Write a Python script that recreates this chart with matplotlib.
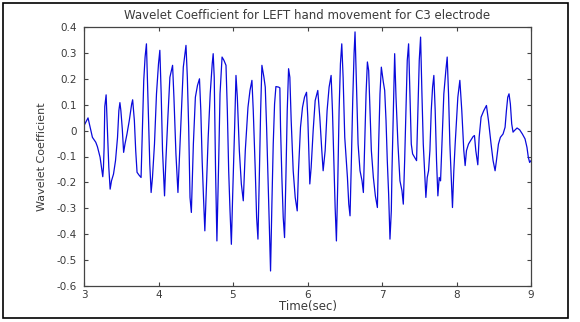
"""
Wavelet coefficient trace, LEFT hand movement, C3 electrode
out.png
"""

import matplotlib
matplotlib.use("Agg")
matplotlib.rcParams["font.family"] = ["DejaVu Sans"]
import matplotlib.pyplot as plt
from matplotlib.patches import Rectangle

OUTPUT_PNG = "out.png"

# time (sec) and coefficient
TIME = [
    3.000, 3.054, 3.113, 3.158, 3.180, 3.216, 3.234, 3.252, 3.261, 3.270,
    3.279, 3.297, 3.315, 3.333, 3.351, 3.369, 3.396, 3.423, 3.450, 3.468,
    3.482, 3.495, 3.514, 3.532, 3.550, 3.577, 3.608, 3.640, 3.653, 3.676,
    3.694, 3.712, 3.739, 3.766, 3.784, 3.802, 3.820, 3.838, 3.847, 3.865,
    3.883, 3.901, 3.919, 3.946, 3.973, 4.000, 4.018, 4.036, 4.054, 4.081,
    4.099, 4.126, 4.153, 4.189, 4.207, 4.234, 4.252, 4.261, 4.279, 4.306,
    4.333, 4.369, 4.387, 4.405, 4.423, 4.441, 4.468, 4.495, 4.523, 4.550,
    4.568, 4.586, 4.604, 4.622, 4.640, 4.667, 4.694, 4.721, 4.734, 4.748,
    4.766, 4.784, 4.808, 4.826, 4.853, 4.879, 4.906, 4.924, 4.942, 4.960,
    4.978, 4.996, 5.022, 5.040, 5.058, 5.085, 5.112, 5.138, 5.165, 5.201,
    5.228, 5.254, 5.272, 5.299, 5.317, 5.335, 5.353, 5.371, 5.388, 5.415,
    5.433, 5.451, 5.469, 5.487, 5.504, 5.522, 5.540, 5.558, 5.576, 5.612,
    5.629, 5.638, 5.656, 5.674, 5.692, 5.710, 5.728, 5.746, 5.763, 5.781,
    5.808, 5.835, 5.862, 5.879, 5.906, 5.933, 5.960, 5.987, 6.004, 6.031,
    6.049, 6.076, 6.103, 6.138, 6.165, 6.192, 6.210, 6.237, 6.263, 6.290,
    6.317, 6.335, 6.353, 6.371, 6.388, 6.406, 6.424, 6.442, 6.460, 6.478,
    6.500, 6.536, 6.554, 6.571, 6.589, 6.607, 6.625, 6.638, 6.661, 6.679,
    6.705, 6.732, 6.750, 6.768, 6.786, 6.804, 6.821, 6.839, 6.857, 6.884,
    6.911, 6.938, 6.955, 6.973, 6.991, 7.018, 7.036, 7.054, 7.071, 7.089,
    7.107, 7.125, 7.134, 7.152, 7.170, 7.188, 7.214, 7.241, 7.268, 7.286,
    7.304, 7.321, 7.339, 7.357, 7.375, 7.393, 7.411, 7.438, 7.464, 7.482,
    7.500, 7.518, 7.536, 7.554, 7.571, 7.589, 7.607, 7.625, 7.643, 7.661,
    7.679, 7.696, 7.714, 7.732, 7.750, 7.768, 7.786, 7.804, 7.830, 7.857,
    7.875, 7.893, 7.911, 7.929, 7.946, 7.964, 7.982, 8.000, 8.018, 8.045,
    8.071, 8.098, 8.116, 8.134, 8.161, 8.188, 8.223, 8.241, 8.259, 8.286,
    8.304, 8.330, 8.366, 8.402, 8.429, 8.464, 8.491, 8.518, 8.536, 8.563,
    8.589, 8.625, 8.652, 8.670, 8.688, 8.705, 8.723, 8.741, 8.759, 8.777,
    8.813, 8.848, 8.884, 8.920, 8.946, 8.964, 8.982, 9.000,
]

COEF = [
    0.019, 0.049, -0.026, -0.045, -0.062, -0.103, -0.142, -0.178, -0.142, -0.065,
    0.093, 0.138, 0.000, -0.142, -0.226, -0.194, -0.168, -0.116, -0.026, 0.077,
    0.108, 0.077, 0.006, -0.084, -0.052, -0.013, 0.039, 0.103, 0.119, 0.039,
    -0.077, -0.161, -0.172, -0.181, 0.013, 0.194, 0.284, 0.335, 0.245, 0.077,
    -0.129, -0.239, -0.181, -0.052, 0.142, 0.258, 0.310, 0.142, -0.077, -0.252,
    -0.116, 0.052, 0.206, 0.252, 0.129, -0.090, -0.194, -0.239, -0.116, 0.077,
    0.245, 0.329, 0.206, 0.013, -0.258, -0.316, -0.052, 0.129, 0.174, 0.200,
    0.077, -0.116, -0.258, -0.387, -0.245, -0.026, 0.142, 0.258, 0.297, 0.206,
    -0.155, -0.426, -0.116, 0.142, 0.284, 0.271, 0.252, 0.077, -0.155, -0.310,
    -0.439, -0.245, 0.013, 0.213, 0.129, -0.077, -0.206, -0.271, -0.077, 0.090,
    0.155, 0.194, 0.077, -0.155, -0.335, -0.419, -0.181, 0.077, 0.252, 0.206,
    0.168, 0.013, -0.181, -0.361, -0.542, -0.284, -0.052, 0.103, 0.170, 0.168,
    0.165, 0.013, -0.181, -0.335, -0.413, -0.181, 0.077, 0.239, 0.206, 0.039,
    -0.155, -0.258, -0.310, -0.155, 0.013, 0.090, 0.129, 0.148, 0.052, -0.206,
    -0.142, 0.000, 0.116, 0.155, 0.052, -0.077, -0.155, -0.077, 0.077, 0.168,
    0.213, 0.077, -0.116, -0.297, -0.426, -0.206, 0.077, 0.258, 0.335, 0.206,
    -0.026, -0.181, -0.284, -0.329, -0.116, 0.116, 0.297, 0.381, 0.142, -0.052,
    -0.155, -0.194, -0.239, -0.052, 0.142, 0.265, 0.232, 0.077, -0.077, -0.181,
    -0.252, -0.297, -0.052, 0.142, 0.245, 0.187, 0.155, 0.039, -0.116, -0.245,
    -0.419, -0.310, -0.155, 0.077, 0.297, 0.129, -0.052, -0.194, -0.232, -0.284,
    -0.116, 0.077, 0.271, 0.335, 0.142, -0.052, -0.090, -0.103, -0.116, 0.077,
    0.271, 0.361, 0.142, -0.052, -0.155, -0.258, -0.181, -0.155, -0.077, 0.077,
    0.168, 0.213, 0.077, -0.116, -0.252, -0.181, -0.194, -0.052, 0.142, 0.232,
    0.284, 0.142, -0.052, -0.181, -0.297, -0.155, -0.052, 0.039, 0.129, 0.194,
    0.077, -0.077, -0.135, -0.077, -0.052, -0.039, -0.023, -0.019, -0.077, -0.132,
    -0.026, 0.052, 0.077, 0.097, 0.039, -0.052, -0.116, -0.155, -0.116, -0.052,
    -0.026, -0.013, 0.013, 0.077, 0.129, 0.142, 0.103, 0.026, -0.006, 0.000,
    0.010, 0.003, -0.013, -0.032, -0.065, -0.103, -0.123, -0.116,
]

X_TICKS = [3, 4, 5, 6, 7, 8, 9]
Y_TICKS = [0.4, 0.3, 0.2, 0.1, 0, -0.1, -0.2, -0.3, -0.4, -0.5, -0.6]
Y_TICK_LABELS = ["0.4", "0.3", "0.2", "0.1", "0", "-0.1", "-0.2", "-0.3", "-0.4", "-0.5", "-0.6"]

TEXT_COLOR = "#3a3a3a"


def main():
    fig = plt.figure(figsize=(5.8, 3.22), dpi=100, facecolor="white")
    ax = fig.add_axes([84 / 580, 1 - 286 / 322, (531 - 84) / 580, (286 - 27) / 322])

    ax.plot(TIME, COEF, color="#0a0adc", linewidth=0.9)

    ax.set_xlim(3, 9)
    ax.set_ylim(-0.6, 0.4)
    ax.set_xticks(X_TICKS)
    ax.set_xticklabels([str(t) for t in X_TICKS])
    ax.set_yticks(Y_TICKS)
    ax.set_yticklabels(Y_TICK_LABELS)

    # MATLAB-like box: ticks inward on every side
    ax.tick_params(direction="in", length=3, width=0.8, color="#444444",
                   top=True, right=True, labelsize=7.5, labelcolor=TEXT_COLOR)
    ax.tick_params(axis="y", pad=5)
    ax.tick_params(axis="x", pad=3)
    for sp in ax.spines.values():
        sp.set_color("#444444")
        sp.set_linewidth(0.9)

    ax.set_title("Wavelet Coefficient for LEFT hand movement for C3 electrode",
                 fontsize=8.5, color=TEXT_COLOR, pad=6)
    ax.set_xlabel("Time(sec)", fontsize=8.5, color=TEXT_COLOR, labelpad=0)
    ax.set_ylabel("Wavelet Coefficient", fontsize=8, color=TEXT_COLOR, labelpad=7)

    # outer frame round the whole figure
    fig.patches.append(Rectangle((3 / 580, 1 - 318 / 322), 565 / 580, 315 / 322,
                                 transform=fig.transFigure, fill=False,
                                 edgecolor="black", linewidth=1.2))

    fig.savefig(OUTPUT_PNG, dpi=100, facecolor="white")
    plt.close(fig)


if __name__ == "__main__":
    main()
